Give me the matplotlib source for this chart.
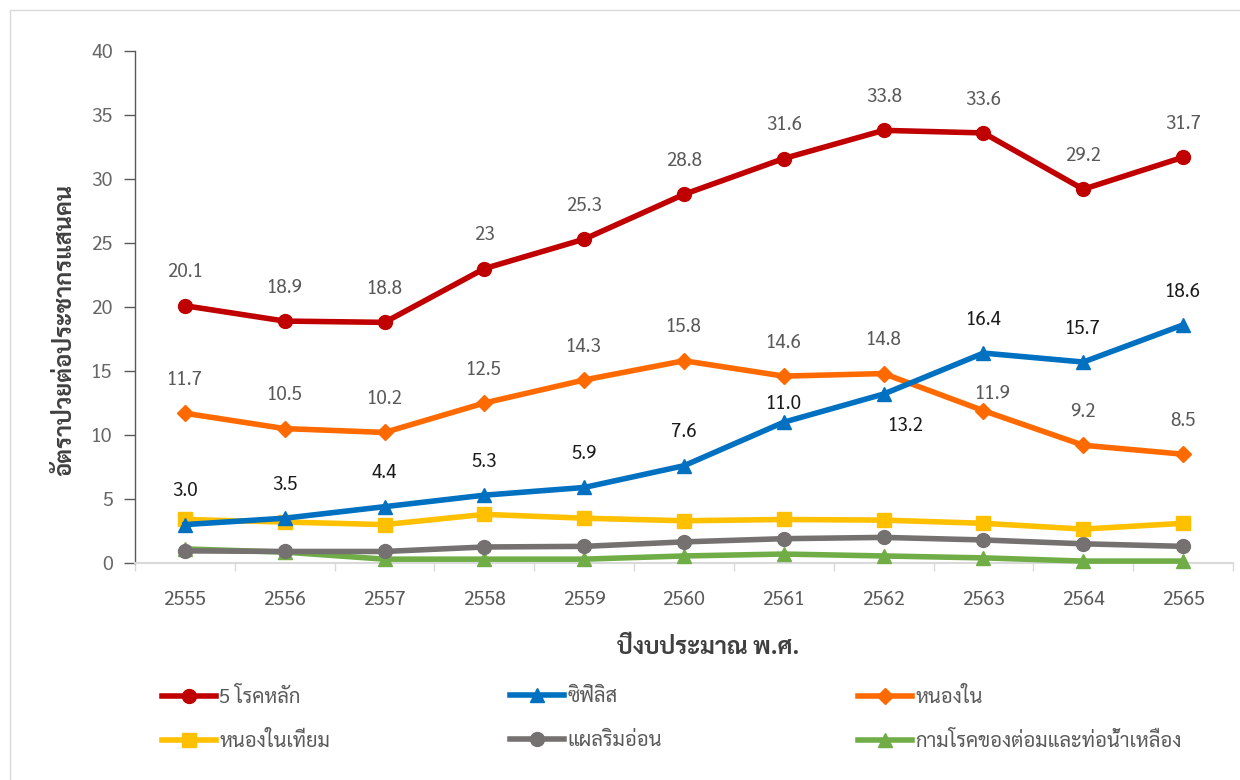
import matplotlib
matplotlib.use("Agg")
import matplotlib.pyplot as plt
from matplotlib import font_manager
from matplotlib.ft2font import FT2Font
from matplotlib.patches import Rectangle
from matplotlib.lines import Line2D

# ---- find a font with Thai glyphs (prefer one that has a bold face) ----
thai_weights = {}
for f in font_manager.fontManager.ttflist:
    try:
        cm = FT2Font(f.fname).get_charmap()
    except Exception:
        continue
    if 0x0E01 in cm and 0x0E2A in cm:
        w = f.weight if isinstance(f.weight, int) else 400
        if isinstance(f.weight, str):
            w = 700 if "bold" in f.weight.lower() else 400
        thai_weights.setdefault(f.name, set()).add(w)
prefer_order = ["Leelawadee UI", "Tahoma", "Noto Sans Thai UI", "Noto Sans Thai", "Sarabun",
                "Loma", "Garuda", "Waree", "Umpush", "Kinnari", "Norasi"]
thai_family = None
with_bold = [n for n, ws in thai_weights.items() if max(ws) >= 600]
for cand in prefer_order:
    if cand in with_bold:
        thai_family = cand
        break
if thai_family is None and with_bold:
    thai_family = sorted(with_bold)[0]
if thai_family is None:
    for cand in prefer_order:
        if cand in thai_weights:
            thai_family = cand
            break
if thai_family is None and thai_weights:
    thai_family = sorted(thai_weights)[0]
fams = ([thai_family] if thai_family else []) + ["DejaVu Sans"]
plt.rcParams["font.family"] = fams

# ---- data ----
years = ["2555", "2556", "2557", "2558", "2559", "2560", "2561", "2562", "2563", "2564", "2565"]
main5 = [20.1, 18.9, 18.8, 23, 25.3, 28.8, 31.6, 33.8, 33.6, 29.2, 31.7]
syphilis = [3.0, 3.5, 4.4, 5.3, 5.9, 7.6, 11.0, 13.2, 16.4, 15.7, 18.6]
gonorrhea = [11.7, 10.5, 10.2, 12.5, 14.3, 15.8, 14.6, 14.8, 11.9, 9.2, 8.5]
ngu = [3.4, 3.2, 3.0, 3.8, 3.5, 3.3, 3.4, 3.35, 3.1, 2.65, 3.1]
chancroid = [0.95, 0.9, 0.9, 1.25, 1.3, 1.65, 1.9, 2.0, 1.8, 1.5, 1.3]
lgv = [1.1, 0.85, 0.3, 0.3, 0.3, 0.55, 0.7, 0.55, 0.4, 0.15, 0.15]

main5_labels = ["20.1", "18.9", "18.8", "23", "25.3", "28.8", "31.6", "33.8", "33.6", "29.2", "31.7"]
syph_labels = ["3.0", "3.5", "4.4", "5.3", "5.9", "7.6", "11.0", "13.2", "16.4", "15.7", "18.6"]
gon_labels = ["11.7", "10.5", "10.2", "12.5", "14.3", "15.8", "14.6", "14.8", "11.9", "9.2", "8.5"]

names = ["5 โรคหลัก", "ซิฟิลิส", "หนองใน", "หนองในเทียม", "แผลริมอ่อน", "กามโรคของต่อมและท่อน้ำเหลือง"]
xlabel = "ปีงบประมาณ พ.ศ."
ylabel = "อัตราป่วยต่อประชากรแสนคน"

colors = ["#C00000", "#0070C0", "#FF6A00", "#FFC000", "#767171", "#70AD47"]
markers = ["o", "^", "D", "s", "o", "^"]
msizes = [10, 10, 8, 10, 10, 10]

fig = plt.figure(figsize=(12.4, 7.8), dpi=100)
fig.patches.append(Rectangle((10 / 1240, -0.1), 1.2, (780 - 10) / 780 + 0.1,
                             transform=fig.transFigure, fill=False,
                             edgecolor="#D9D9D9", linewidth=1.0))
ax = fig.add_axes([135 / 1240, (780 - 563) / 780, 1098 / 1240, 512 / 780])

x = list(range(len(years)))
series = [main5, syphilis, gonorrhea, ngu, chancroid, lgv]
order = [5, 4, 3, 2, 1, 0]
for i in order:
    ax.plot(x, series[i], color=colors[i], linewidth=4, marker=markers[i],
            markersize=msizes[i], solid_joinstyle="round", zorder=3 + (5 - i) * 0.1,
            clip_on=False)

lab_gray = "#595959"
lab_fs = 13.5
for xi, v, t in zip(x, main5, main5_labels):
    ax.annotate(t, (xi, v), xytext=(0, 24), textcoords="offset points",
                ha="center", va="center", fontsize=lab_fs, color=lab_gray)
gon_off = {"11.9": (7, 12)}
for xi, v, t in zip(x, gonorrhea, gon_labels):
    dx, dy = gon_off.get(t, (0, 24))
    ax.annotate(t, (xi, v), xytext=(dx, dy), textcoords="offset points",
                ha="center", va="center", fontsize=lab_fs, color=lab_gray)
syph_off = {"13.2": (16, -23), "11.0": (0, 13)}
for xi, v, t in zip(x, syphilis, syph_labels):
    dx, dy = syph_off.get(t, (0, 24))
    ax.annotate(t, (xi, v), xytext=(dx, dy), textcoords="offset points",
                ha="center", va="center", fontsize=lab_fs, color="#1a1a1a")

ax.set_xlim(-0.5, len(years) - 0.5)
ax.set_ylim(0, 40)
ax.set_yticks(range(0, 41, 5))
ax.set_xticks(x)
ax.set_xticklabels(years)
ax.set_xticks([i - 0.5 for i in range(len(years) + 1)], minor=True)
ax.tick_params(axis="x", which="major", length=0, pad=20, labelsize=14, labelcolor=lab_gray)
ax.tick_params(axis="x", which="minor", length=6, width=1, color="#D9D9D9", direction="out")
ax.tick_params(axis="y", length=8, width=1, color="#595959", direction="out", pad=8,
               labelsize=14, labelcolor="#666666")

for s in ["top", "right"]:
    ax.spines[s].set_visible(False)
ax.spines["left"].set_color("#595959")
ax.spines["left"].set_linewidth(1)
ax.spines["bottom"].set_color("#D9D9D9")
ax.spines["bottom"].set_linewidth(1.5)
ax.set_facecolor("none")

fig.text(708 / 1240, 1 - 648 / 780, xlabel, ha="center", va="center",
         fontsize=17, fontweight="bold", color="#404040")
fig.text(65 / 1240, 1 - 330 / 780, ylabel, ha="center", va="center", rotation=90,
         fontsize=17, fontweight="bold", color="#404040")

# legend: one entry per legend so rows align exactly
col_x = [162, 510, 858]
row_y = [697, 741]
for k in range(6):
    c, r = k % 3, k // 3
    h = Line2D([], [], color=colors[k], linewidth=4, marker=markers[k], markersize=msizes[k])
    fig.legend([h], [names[k]], loc="center left",
               bbox_to_anchor=(col_x[c] / 1240, 1 - row_y[r] / 780),
               frameon=False, fontsize=14.5, handlelength=2.7,
               handletextpad=0.15, borderpad=0, borderaxespad=0,
               labelcolor=lab_gray)

fig.savefig("out.png", dpi=100, facecolor="white")
